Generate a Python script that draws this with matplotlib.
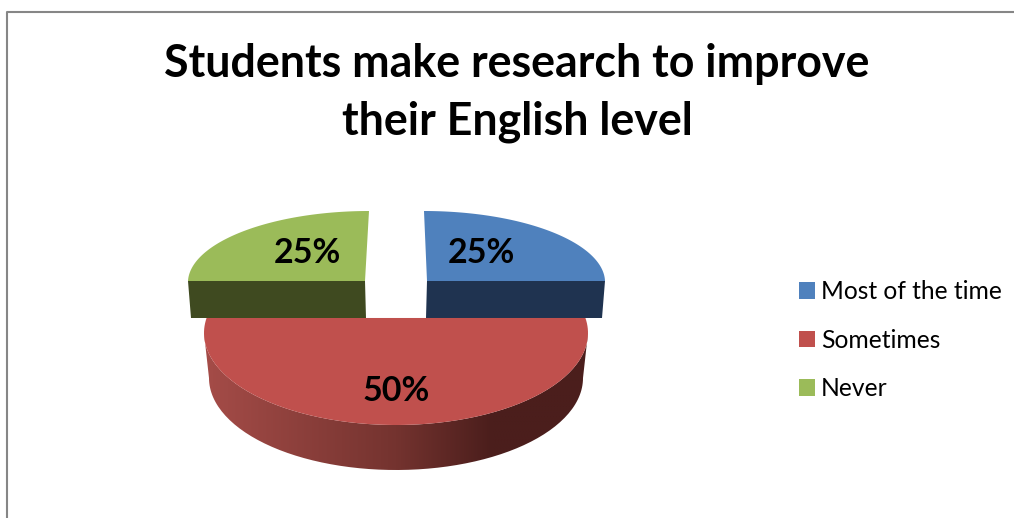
import numpy as np
import matplotlib
matplotlib.use('Agg')
import matplotlib.pyplot as plt
from matplotlib.colors import LinearSegmentedColormap
from matplotlib.patches import Patch, PathPatch, Polygon
from matplotlib.path import Path

plt.rcParams['font.family'] = ['Lato', 'DejaVu Sans']

title = 'Students make research to improve\ntheir English level'
categories = ['Most of the time', 'Sometimes', 'Never']
values = [25, 50, 25]
colors = ['#4F81BD', '#C0504D', '#9BBB59']
wall_colors = ['#1F3350', None, '#3F4A20']

# slice geometry in pixels: centre, radii, skew of the 12 o'clock point
centers = [(427, 281), (396, 333), (365, 281)]
radii = [(178, 70), (192, 92), (177, 70)]
skews = [-3, 0, 4]
label_pos = [(481, 253), (396, 391), (307, 253)]
wall_depth = 37
red_depth = 45
red_cut = 9.4   # the big slice is cut off flat a bit above its centre

fig = plt.figure(figsize=(10.14, 5.18), dpi=100)
ax = fig.add_axes([0, 0, 1, 1])
ax.set_xlim(0, 1014)
ax.set_ylim(518, 0)
ax.axis('off')

# frame of the chart area, only top and left fall inside the figure
ax.plot([6.5, 6.5, 1014], [518, 11.5, 11.5], color='#868686', lw=1.5, solid_capstyle='butt')


def arc(center, radius, skew, a0, a1, n=120):
    t = np.radians(np.linspace(a0, a1, n))
    x = center[0] + radius[0] * np.sin(t) + skew * np.cos(t)
    y = center[1] - radius[1] * np.cos(t)
    return np.column_stack([x, y])


# start angles go clockwise from 12 o'clock
ends = np.cumsum(values) / sum(values) * 360
starts = np.concatenate([[0], ends[:-1]])

# wall under the big slice, shaded from left to right
i_big = int(np.argmax(values))
c = centers[i_big]
r = radii[i_big]
outer = arc(c, r, 0, ends[i_big], starts[i_big])
bottom = arc((c[0], c[1] + red_depth), (r[0] - 5, r[1]), 0, starts[i_big], ends[i_big])
wall = np.vstack([outer, bottom])
cmap = LinearSegmentedColormap.from_list('wall', [(0, '#A54C48'), (0.5, '#74332F'), (0.75, '#4B1E1C'), (1, '#4B1E1C')])
img = ax.imshow(np.linspace(0, 1, 256).reshape(1, -1), cmap=cmap, aspect='auto',
                extent=[wall[:, 0].min(), wall[:, 0].max(), wall[:, 1].max(), wall[:, 1].min()])
img.set_clip_path(PathPatch(Path(wall), transform=ax.transData))
ax.set_xlim(0, 1014)
ax.set_ylim(518, 0)

for i, v in enumerate(values):
    c = centers[i]
    r = radii[i]
    if i == i_big:
        top = arc(c, r, 0, starts[i] - red_cut, ends[i] + red_cut)
        ax.add_patch(Polygon(top, closed=True, fc=colors[i], ec='none'))
    else:
        # straight wall along the horizontal cut of the quarter slice
        side = 1 if i == 0 else -1
        wall_pts = [(c[0], c[1]), (c[0] + side * r[0], c[1]),
                    (c[0] + side * (r[0] - 3), c[1] + wall_depth), (c[0] + side * -1, c[1] + wall_depth)]
        ax.add_patch(Polygon(wall_pts, closed=True, fc=wall_colors[i], ec='none'))
        top = arc(c, r, skews[i], starts[i], ends[i])
        pts = np.vstack([[c], top])
        ax.add_patch(Polygon(pts, closed=True, fc=colors[i], ec='none'))
    ax.text(label_pos[i][0], label_pos[i][1], str(v) + '%', fontsize=24.5, fontweight='bold',
            ha='center', va='center', color='black')

ax.text(517, 93, title, fontsize=32.2, fontweight='bold', ha='center', va='center', color='black', linespacing=1.47)

handles = [Patch(fc=col, ec='none') for col in colors]
ax.legend(handles, categories, loc='center left', bbox_to_anchor=(799 / 1014, 1 - 340 / 518), frameon=False,
          fontsize=17.7, handlelength=0.66, handleheight=0.66, handletextpad=0.24, labelspacing=1.04,
          borderpad=0, borderaxespad=0)

fig.savefig('out.png', dpi=100)
